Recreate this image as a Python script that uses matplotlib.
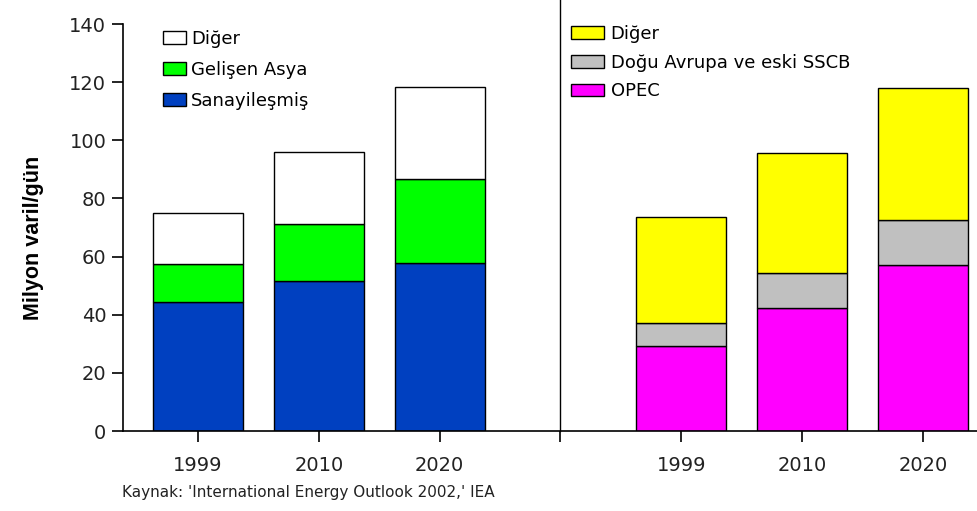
import numpy as np
import matplotlib.pyplot as plt
from matplotlib.patches import Patch

# --------------------------
# Data (million barrels/day)
# --------------------------
years = ["1999", "2010", "2020"]

# left panel: demand by region
sanayilesmis = [44.4, 51.6, 57.8]
gelisen_asya = [13.0, 19.6, 28.9]
diger_talep = [17.6, 24.8, 31.6]

# right panel: supply by source
opec = [29.2, 42.3, 57.1]
dogu_avrupa = [8.0, 12.1, 15.5]
diger_arz = [36.4, 41.2, 45.4]

plt.rcParams['font.family'] = ['DejaVu Sans']

fig = plt.figure(figsize=(9.77, 5.11), dpi=100)
ax = fig.add_axes([123/977, 80/511, (977-123)/977, (431-24)/511])

left_x = np.arange(3)
right_x = np.arange(3) + 4
w = 0.745
ec = dict(edgecolor='black', linewidth=1.0)

# left stacks
ax.bar(left_x, sanayilesmis, w, color='#0040c0', **ec)
ax.bar(left_x, gelisen_asya, w, bottom=sanayilesmis, color='#00ff00', **ec)
b2 = np.array(sanayilesmis) + np.array(gelisen_asya)
ax.bar(left_x, diger_talep, w, bottom=b2, color='white', **ec)

# right stacks
ax.bar(right_x, opec, w, color='#ff00ff', **ec)
ax.bar(right_x, dogu_avrupa, w, bottom=opec, color='#c0c0c0', **ec)
b3 = np.array(opec) + np.array(dogu_avrupa)
ax.bar(right_x, diger_arz, w, bottom=b3, color='#ffff00', **ec)

# divider between panels
ax.plot([3, 3], [0, 148.5], color='black', linewidth=1.0, clip_on=False)

ax.set_xlim(-0.621, 6.449)
ax.set_ylim(0, 140)
ax.set_yticks(np.arange(0, 141, 20))
ax.set_xticks(list(left_x) + [3] + list(right_x))
ax.set_xticklabels(years + [""] + years)
ax.tick_params(axis='both', direction='out', length=8, width=1.2,
               labelsize=14, colors='black', labelcolor='#222222')
ax.tick_params(axis='x', pad=10)
ax.tick_params(axis='y', pad=4)
for s in ['top', 'right']:
    ax.spines[s].set_visible(False)
for s in ['left', 'bottom']:
    ax.spines[s].set_linewidth(1.2)

ax.set_ylabel("Milyon varil/gün", fontsize=15.5, fontweight='bold',
              family=['Liberation Sans Narrow', 'Liberation Sans'])
ax.yaxis.set_label_coords(-0.093, 0.475)

# legends
left_handles = [Patch(facecolor='white', edgecolor='black', label='Diğer'),
                Patch(facecolor='#00ff00', edgecolor='black', label='Gelişen Asya'),
                Patch(facecolor='#0040c0', edgecolor='black', label='Sanayileşmiş')]
fig.legend(handles=left_handles, loc='upper left',
           bbox_to_anchor=(163/977, 1 - 30/511), frameon=False,
           fontsize=13, handlelength=1.3, handleheight=0.7,
           handletextpad=0.25, labelspacing=0.72, borderaxespad=0,
           borderpad=0)

right_handles = [Patch(facecolor='#ffff00', edgecolor='black', label='Diğer'),
                 Patch(facecolor='#c0c0c0', edgecolor='black',
                       label='Doğu Avrupa ve eski SSCB'),
                 Patch(facecolor='#ff00ff', edgecolor='black', label='OPEC')]
fig.legend(handles=right_handles, loc='upper left',
           bbox_to_anchor=(571/977, 1 - 25/511), frameon=False,
           fontsize=13, handlelength=1.8, handleheight=0.7,
           handletextpad=0.4, labelspacing=0.59, borderaxespad=0,
           borderpad=0)

fig.text(122/977, 1 - 492/511, "Kaynak: 'International Energy Outlook 2002,' IEA",
         fontsize=11, va='center', ha='left', color='#222222')

fig.savefig("out.png", dpi=100)
